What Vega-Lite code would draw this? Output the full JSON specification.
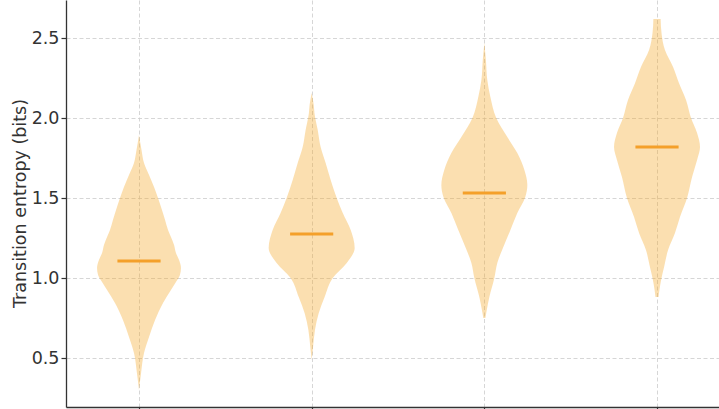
{
  "$schema": "https://vega.github.io/schema/vega-lite/v6.json",
  "width": 653,
  "height": 407,
  "autosize": {"type": "none"},
  "padding": {"left": 66, "top": 0, "right": 0, "bottom": 2},
  "config": {
    "view": {"stroke": null},
    "font": "DejaVu Sans",
    "axis": {
      "domainColor": "#333333",
      "domainWidth": 1.3,
      "tickColor": "#333333",
      "tickWidth": 1.2,
      "tickSize": 5,
      "labelColor": "#333333",
      "labelFont": "DejaVu Sans",
      "labelFontSize": 17.5,
      "titleFont": "DejaVu Sans",
      "titleFontSize": 17.5,
      "titleFontWeight": "normal",
      "titleColor": "#333333",
      "gridColor": "#cccccc",
      "gridWidth": 0.8,
      "gridDash": [4, 2.5]
    }
  },
  "datasets": {
    "profile": [
      {"group": 1, "entropy": 1.894, "halfwidth": 0},
      {"group": 1, "entropy": 1.8, "halfwidth": 0.0145},
      {"group": 1, "entropy": 1.719, "halfwidth": 0.029},
      {"group": 1, "entropy": 1.644, "halfwidth": 0.058},
      {"group": 1, "entropy": 1.569, "halfwidth": 0.087},
      {"group": 1, "entropy": 1.5, "halfwidth": 0.11},
      {"group": 1, "entropy": 1.425, "halfwidth": 0.133},
      {"group": 1, "entropy": 1.363, "halfwidth": 0.151},
      {"group": 1, "entropy": 1.3, "halfwidth": 0.168},
      {"group": 1, "entropy": 1.256, "halfwidth": 0.185},
      {"group": 1, "entropy": 1.206, "halfwidth": 0.203},
      {"group": 1, "entropy": 1.156, "halfwidth": 0.214},
      {"group": 1, "entropy": 1.113, "halfwidth": 0.232},
      {"group": 1, "entropy": 1.063, "halfwidth": 0.243},
      {"group": 1, "entropy": 1.019, "halfwidth": 0.237},
      {"group": 1, "entropy": 0.975, "halfwidth": 0.214},
      {"group": 1, "entropy": 0.925, "halfwidth": 0.185},
      {"group": 1, "entropy": 0.844, "halfwidth": 0.139},
      {"group": 1, "entropy": 0.738, "halfwidth": 0.093},
      {"group": 1, "entropy": 0.631, "halfwidth": 0.058},
      {"group": 1, "entropy": 0.531, "halfwidth": 0.029},
      {"group": 1, "entropy": 0.406, "halfwidth": 0.012},
      {"group": 1, "entropy": 0.3, "halfwidth": 0},

      {"group": 2, "entropy": 2.156, "halfwidth": 0},
      {"group": 2, "entropy": 2.081, "halfwidth": 0.012},
      {"group": 2, "entropy": 2.031, "halfwidth": 0.016},
      {"group": 2, "entropy": 1.925, "halfwidth": 0.035},
      {"group": 2, "entropy": 1.819, "halfwidth": 0.052},
      {"group": 2, "entropy": 1.719, "halfwidth": 0.081},
      {"group": 2, "entropy": 1.613, "halfwidth": 0.11},
      {"group": 2, "entropy": 1.5, "halfwidth": 0.145},
      {"group": 2, "entropy": 1.406, "halfwidth": 0.18},
      {"group": 2, "entropy": 1.3, "halfwidth": 0.226},
      {"group": 2, "entropy": 1.188, "halfwidth": 0.249},
      {"group": 2, "entropy": 1.094, "halfwidth": 0.203},
      {"group": 2, "entropy": 1.0, "halfwidth": 0.122},
      {"group": 2, "entropy": 0.881, "halfwidth": 0.075},
      {"group": 2, "entropy": 0.781, "halfwidth": 0.041},
      {"group": 2, "entropy": 0.675, "halfwidth": 0.019},
      {"group": 2, "entropy": 0.569, "halfwidth": 0.008},
      {"group": 2, "entropy": 0.488, "halfwidth": 0},

      {"group": 3, "entropy": 2.469, "halfwidth": 0},
      {"group": 3, "entropy": 2.363, "halfwidth": 0.009},
      {"group": 3, "entropy": 2.238, "halfwidth": 0.017},
      {"group": 3, "entropy": 2.131, "halfwidth": 0.035},
      {"group": 3, "entropy": 2.0, "halfwidth": 0.069},
      {"group": 3, "entropy": 1.881, "halfwidth": 0.133},
      {"group": 3, "entropy": 1.781, "halfwidth": 0.191},
      {"group": 3, "entropy": 1.675, "halfwidth": 0.232},
      {"group": 3, "entropy": 1.581, "halfwidth": 0.249},
      {"group": 3, "entropy": 1.506, "halfwidth": 0.237},
      {"group": 3, "entropy": 1.406, "halfwidth": 0.191},
      {"group": 3, "entropy": 1.3, "halfwidth": 0.151},
      {"group": 3, "entropy": 1.194, "halfwidth": 0.11},
      {"group": 3, "entropy": 1.094, "halfwidth": 0.075},
      {"group": 3, "entropy": 1.0, "halfwidth": 0.058},
      {"group": 3, "entropy": 0.881, "halfwidth": 0.029},
      {"group": 3, "entropy": 0.8, "halfwidth": 0.014},
      {"group": 3, "entropy": 0.75, "halfwidth": 0.006},

      {"group": 4, "entropy": 2.619, "halfwidth": 0.021},
      {"group": 4, "entropy": 2.531, "halfwidth": 0.026},
      {"group": 4, "entropy": 2.425, "halfwidth": 0.046},
      {"group": 4, "entropy": 2.319, "halfwidth": 0.093},
      {"group": 4, "entropy": 2.219, "halfwidth": 0.127},
      {"group": 4, "entropy": 2.113, "halfwidth": 0.168},
      {"group": 4, "entropy": 2.0, "halfwidth": 0.197},
      {"group": 4, "entropy": 1.906, "halfwidth": 0.232},
      {"group": 4, "entropy": 1.819, "halfwidth": 0.249},
      {"group": 4, "entropy": 1.738, "halfwidth": 0.232},
      {"group": 4, "entropy": 1.631, "halfwidth": 0.203},
      {"group": 4, "entropy": 1.5, "halfwidth": 0.174},
      {"group": 4, "entropy": 1.381, "halfwidth": 0.133},
      {"group": 4, "entropy": 1.281, "halfwidth": 0.104},
      {"group": 4, "entropy": 1.175, "halfwidth": 0.064},
      {"group": 4, "entropy": 1.069, "halfwidth": 0.041},
      {"group": 4, "entropy": 1.0, "halfwidth": 0.026},
      {"group": 4, "entropy": 0.925, "halfwidth": 0.014},
      {"group": 4, "entropy": 0.881, "halfwidth": 0.009}
    ],
    "medians": [
      {"group": 1, "median": 1.106},
      {"group": 2, "median": 1.275},
      {"group": 3, "median": 1.531},
      {"group": 4, "median": 1.819}
    ]
  },
  "layer": [
    {
      "data": {"name": "profile"},
      "transform": [
        {"calculate": "datum.group - datum.halfwidth", "as": "left"},
        {"calculate": "datum.group + datum.halfwidth", "as": "right"}
      ],
      "mark": {"type": "area", "orient": "horizontal", "color": "#F5A623", "fillOpacity": 0.36, "interpolate": "monotone"},
      "encoding": {
        "y": {
          "field": "entropy",
          "type": "quantitative",
          "scale": {"domain": [0.19375, 2.7375], "nice": false, "zero": false},
          "axis": {
            "values": [0.5, 1.0, 1.5, 2.0, 2.5],
            "format": ".1f",
            "labelPadding": 2,
            "labelBaseline": "middle",
            "title": "Transition entropy (bits)",
            "titleAngle": 270,
            "titleAlign": "center",
            "titleBaseline": "alphabetic",
            "titleX": -41,
            "titleY": 203
          }
        },
        "x": {
          "field": "left",
          "type": "quantitative",
          "scale": {"domain": [0.5772, 4.359], "nice": false, "zero": false},
          "axis": {"values": [1, 2, 3, 4], "labels": false, "title": null}
        },
        "x2": {"field": "right"},
        "detail": {"field": "group"}
      }
    },
    {
      "data": {"name": "medians"},
      "transform": [
        {"calculate": "datum.group - 0.125", "as": "lo"},
        {"calculate": "datum.group + 0.125", "as": "hi"}
      ],
      "mark": {"type": "rule", "color": "#F4A02A", "strokeWidth": 3},
      "encoding": {
        "x": {"field": "lo", "type": "quantitative"},
        "x2": {"field": "hi"},
        "y": {"field": "median", "type": "quantitative"}
      }
    }
  ]
}
